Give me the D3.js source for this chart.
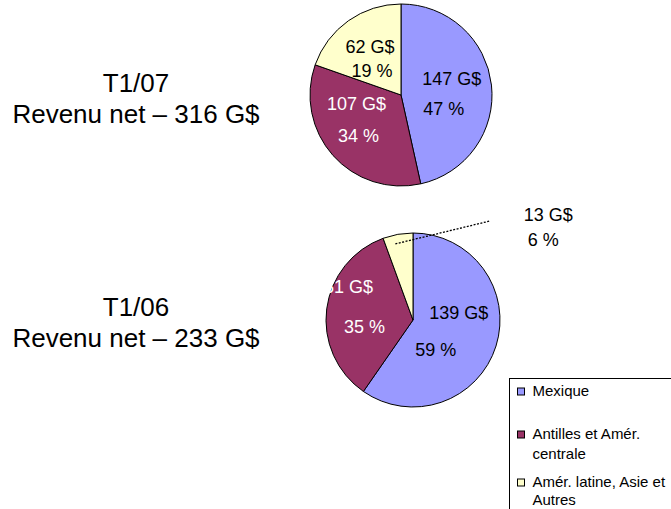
<!DOCTYPE html>
<html>
<head>
<meta charset="utf-8">
<script src="https://cdn.jsdelivr.net/npm/d3@7"></script>
<style>
  body { margin: 0; background: #fff; }
  svg { display: block; font-family: "Liberation Sans", Arial, sans-serif; }
</style>
</head>
<body>
<div class="chart"></div>
<script>
(function(){

    // Data
    var regions = ["Mexique", "Antilles et Amér. centrale", "Amér. latine, Asie et Autres"];
    var legendLines = [["Mexique"], ["Antilles et Amér.", "centrale"], ["Amér. latine, Asie et", "Autres"]];
    var colors = ["#9999ff", "#993366", "#ffffcc"];
    var textColors = ["#000", "#fff", "#000"];

    var periods = ["T1/07", "T1/06"];
    var totals = ["316 G$", "233 G$"];
    var values07 = [147, 107, 62];
    var values06 = [139, 81, 13];
    var pct07 = [47, 34, 19];
    var pct06 = [59, 35, 6];

    var width = 671, height = 509;

    var svg = d3.select(".chart").append("svg")
                .attr("width", width)
                .attr("height", height);

    // label nudges relative to slice centroid: [dx1, dy1, dx2, dy2]
    var pies = [
        { cx: 401, cy: 95, r: 91, values: values07, pct: pct07, title: 0, ty: 92,
          nudge: [[1, -11, -7, 19], [-7, -25, -5, 7], [-2, -8, 0, 16]], outside: [] },
        { cx: 413, cy: 320, r: 87, values: values06, pct: pct06, title: 1, ty: 316,
          nudge: [[0, -22, -23, 15], [-17, -27, -1, 13], null], outside: [2] }
    ];

    var pie = d3.pie().sort(null).value(function(d){ return d; });

    pies.forEach(function(p) {
        var g = svg.append("g").attr("transform", "translate(" + p.cx + "," + p.cy + ")");
        var arc = d3.arc().innerRadius(0).outerRadius(p.r);
        var labelArc = d3.arc().innerRadius(p.r * 0.55).outerRadius(p.r * 0.55);
        var edgeArc = d3.arc().innerRadius(p.r * 0.9).outerRadius(p.r * 0.9);
        var arcs = pie(p.values);

        g.selectAll("path")
         .data(arcs)
         .enter()
         .append("path")
         .attr("d", arc)
         .attr("fill", function(d, i){ return colors[i]; })
         .attr("stroke", "#000")
         .attr("stroke-width", 1);

        arcs.forEach(function(d, i) {
            var lines = [d.data + " G$", p.pct[i] + " %"];
            if (p.outside.indexOf(i) >= 0) {
                var s = edgeArc.centroid(d);
                var sx = s[0] - 4, sy = s[1] + 1;
                var ex = sx + 95, ey = sy - 23;
                g.append("line")
                 .attr("x1", sx).attr("y1", sy)
                 .attr("x2", ex).attr("y2", ey)
                 .attr("stroke", "#000")
                 .attr("stroke-width", 1.3)
                 .attr("stroke-dasharray", "2,1.5");
                g.append("text")
                 .attr("x", ex + 58).attr("y", ey)
                 .attr("text-anchor", "middle")
                 .style("font-size", "18px")
                 .text(lines[0]);
                g.append("text")
                 .attr("x", ex + 53).attr("y", ey + 25)
                 .attr("text-anchor", "middle")
                 .style("font-size", "18px")
                 .text(lines[1]);
                return;
            }
            var c = labelArc.centroid(d);
            var n = p.nudge[i];
            [0, 1].forEach(function(k) {
                g.append("text")
                 .attr("x", c[0] + n[k * 2])
                 .attr("y", c[1] + n[k * 2 + 1])
                 .attr("dy", "0.36em")
                 .attr("text-anchor", "middle")
                 .attr("fill", textColors[i])
                 .style("font-size", "18px")
                 .text(lines[k]);
            });
        });

        // titles
        svg.append("text")
           .attr("x", 136).attr("y", p.ty)
           .attr("text-anchor", "middle")
           .style("font-size", "26px")
           .text(periods[p.title]);
        svg.append("text")
           .attr("x", 136).attr("y", p.ty + 31)
           .attr("text-anchor", "middle")
           .style("font-size", "26px")
           .text("Revenu net \u2013 " + totals[p.title]);
    });

    // Legend
    var legend = svg.append("g").attr("transform", "translate(509.5,378.5)");
    legend.append("rect")
          .attr("width", 200).attr("height", 200)
          .attr("fill", "#fff")
          .attr("stroke", "#000");

    var itemY = [17.5, 60.5, 108.5];
    var lineGap = [0, 20, 18];
    regions.forEach(function(name, i) {
        legend.append("rect")
              .attr("x", 8).attr("y", itemY[i] - 8)
              .attr("width", 7).attr("height", 7)
              .attr("fill", colors[i])
              .attr("stroke", "#000")
              .attr("stroke-width", 1);
        legendLines[i].forEach(function(t, k) {
            legend.append("text")
                  .attr("x", 23).attr("y", itemY[i] + k * lineGap[i])
                  .style("font-size", "15px")
                  .text(t);
        });
    });

})();
</script>
</body>
</html>
